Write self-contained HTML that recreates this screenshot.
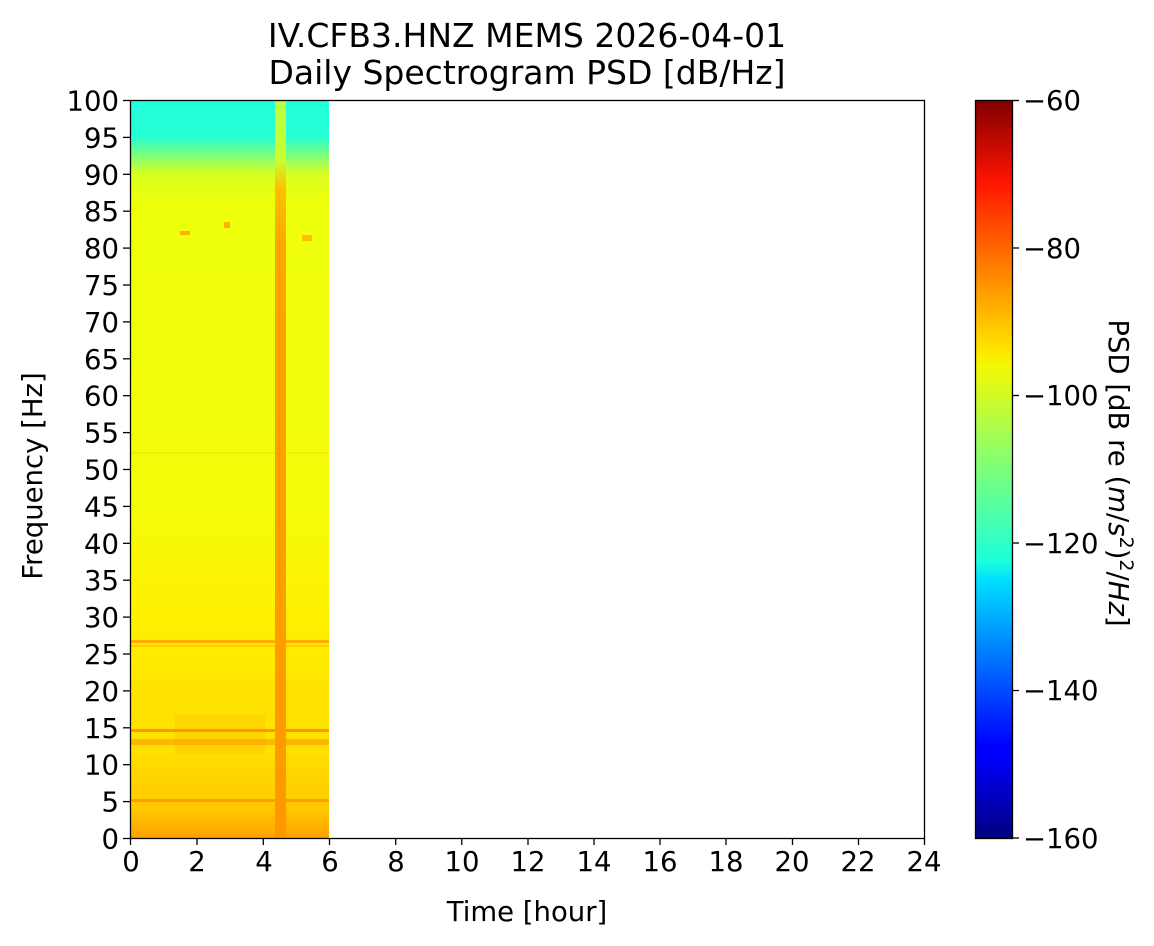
<!DOCTYPE html>
<html><head><meta charset="utf-8"><style>
html,body{margin:0;padding:0;background:#fff}
svg{display:block}
text{font-family:"DejaVu Sans","Liberation Sans",sans-serif;fill:#000}
</style></head><body>
<svg width="1154" height="946" viewBox="0 0 1154 946" xmlns="http://www.w3.org/2000/svg">
<defs>
<linearGradient id="bg" x1="0" y1="100" x2="0" y2="838" gradientUnits="userSpaceOnUse">
<stop offset="0" stop-color="#22ffdc"/>
<stop offset="0.05" stop-color="#26ffd4"/>
<stop offset="0.075" stop-color="#7dff7a"/>
<stop offset="0.1" stop-color="#d8ff20"/>
<stop offset="0.14" stop-color="#eeff0c"/>
<stop offset="0.55" stop-color="#f4fc08"/>
<stop offset="0.7" stop-color="#fff000"/>
<stop offset="0.88" stop-color="#ffe000"/>
<stop offset="0.96" stop-color="#ffc800"/>
<stop offset="1" stop-color="#ffa000"/>
</linearGradient>
<linearGradient id="st" x1="0" y1="100" x2="0" y2="838" gradientUnits="userSpaceOnUse">
<stop offset="0" stop-color="#b8ff40"/>
<stop offset="0.08" stop-color="#c8ff30"/>
<stop offset="0.12" stop-color="#ffc000"/>
<stop offset="0.2" stop-color="#ffa400"/>
<stop offset="1" stop-color="#ff9800"/>
</linearGradient>
<linearGradient id="jet" x1="0" y1="838" x2="0" y2="100" gradientUnits="userSpaceOnUse">
<stop offset="0" stop-color="#00007f"/>
<stop offset="0.11" stop-color="#0000ff"/>
<stop offset="0.125" stop-color="#0000ff"/>
<stop offset="0.35" stop-color="#00e0ff"/>
<stop offset="0.375" stop-color="#1cffdb"/>
<stop offset="0.5" stop-color="#7dff7a"/>
<stop offset="0.64" stop-color="#f4f802"/>
<stop offset="0.66" stop-color="#ffe600"/>
<stop offset="0.89" stop-color="#ff1300"/>
<stop offset="1" stop-color="#7f0000"/>
</linearGradient>
</defs>
<rect x="131" y="100" width="198" height="738" fill="url(#bg)"/>
<g opacity="0.5">
<rect x="131" y="680" width="198" height="40" fill="#ffe000"/>
<rect x="175" y="715" width="90" height="40" fill="#ffb000" opacity="0.5"/>
</g>
<rect x="131" y="640" width="198" height="3" fill="#ff9a00" opacity="0.8"/>
<rect x="131" y="645" width="198" height="2" fill="#ffb000" opacity="0.6"/>
<rect x="131" y="729" width="198" height="3" fill="#ff8a00" opacity="0.85"/>
<rect x="131" y="739" width="198" height="6" fill="#ff9a00" opacity="0.6"/>
<rect x="131" y="799" width="198" height="3" fill="#ff9000" opacity="0.8"/>
<rect x="131" y="452" width="198" height="2" fill="#ffd000" opacity="0.4"/>
<rect x="180" y="231" width="10" height="4" fill="#ffb000"/>
<rect x="224" y="222" width="6" height="6" fill="#ffb000"/>
<rect x="302" y="235" width="10" height="6" fill="#ffc000"/>
<rect x="275" y="100" width="11" height="738" fill="url(#st)"/>
<rect x="130.5" y="100.5" width="794" height="738" fill="none" stroke="#000" stroke-width="1.3"/>
<g stroke="#000" stroke-width="1.3">
<line x1="130.5" y1="838" x2="130.5" y2="845"/><line x1="197" y1="838" x2="197" y2="845"/>
<line x1="263.3" y1="838" x2="263.3" y2="845"/><line x1="329.5" y1="838" x2="329.5" y2="845"/>
<line x1="395.7" y1="838" x2="395.7" y2="845"/><line x1="461.8" y1="838" x2="461.8" y2="845"/>
<line x1="528" y1="838" x2="528" y2="845"/><line x1="594" y1="838" x2="594" y2="845"/>
<line x1="660" y1="838" x2="660" y2="845"/><line x1="726" y1="838" x2="726" y2="845"/>
<line x1="792.5" y1="838" x2="792.5" y2="845"/><line x1="858.5" y1="838" x2="858.5" y2="845"/>
<line x1="924.5" y1="838" x2="924.5" y2="845"/>
</g>
<g font-size="27.5" text-anchor="middle">
<text x="131" y="871">0</text><text x="197" y="871">2</text><text x="264" y="871">4</text>
<text x="330" y="871">6</text><text x="396" y="871">8</text><text x="462" y="871">10</text>
<text x="528" y="871">12</text><text x="594" y="871">14</text><text x="660" y="871">16</text>
<text x="726" y="871">18</text><text x="792" y="871">20</text><text x="858" y="871">22</text>
<text x="924" y="871">24</text>
</g>
<g stroke="#000" stroke-width="1.3">
<line x1="123" y1="100.5" x2="130" y2="100.5"/><line x1="123" y1="137.4" x2="130" y2="137.4"/>
<line x1="123" y1="174.3" x2="130" y2="174.3"/><line x1="123" y1="211.2" x2="130" y2="211.2"/>
<line x1="123" y1="248.1" x2="130" y2="248.1"/><line x1="123" y1="285" x2="130" y2="285"/>
<line x1="123" y1="321.9" x2="130" y2="321.9"/><line x1="123" y1="358.8" x2="130" y2="358.8"/>
<line x1="123" y1="395.7" x2="130" y2="395.7"/><line x1="123" y1="432.6" x2="130" y2="432.6"/>
<line x1="123" y1="469.5" x2="130" y2="469.5"/><line x1="123" y1="506.4" x2="130" y2="506.4"/>
<line x1="123" y1="543.3" x2="130" y2="543.3"/><line x1="123" y1="580.2" x2="130" y2="580.2"/>
<line x1="123" y1="617.1" x2="130" y2="617.1"/><line x1="123" y1="654" x2="130" y2="654"/>
<line x1="123" y1="690.9" x2="130" y2="690.9"/><line x1="123" y1="727.8" x2="130" y2="727.8"/>
<line x1="123" y1="764.7" x2="130" y2="764.7"/><line x1="123" y1="801.6" x2="130" y2="801.6"/>
<line x1="123" y1="838.5" x2="130" y2="838.5"/>
</g>
<g font-size="27.5" text-anchor="end">
<text x="119" y="110.5">100</text><text x="119" y="147.4">95</text><text x="119" y="184.3">90</text>
<text x="119" y="221.2">85</text><text x="119" y="258.1">80</text><text x="119" y="295">75</text>
<text x="119" y="331.9">70</text><text x="119" y="368.8">65</text><text x="119" y="405.7">60</text>
<text x="119" y="442.6">55</text><text x="119" y="479.5">50</text><text x="119" y="516.4">45</text>
<text x="119" y="553.3">40</text><text x="119" y="590.2">35</text><text x="119" y="627.1">30</text>
<text x="119" y="664">25</text><text x="119" y="700.9">20</text><text x="119" y="737.8">15</text>
<text x="119" y="774.7">10</text><text x="119" y="811.6">5</text><text x="119" y="848.5">0</text>
</g>
<text x="527" y="921" font-size="27.5" text-anchor="middle">Time [hour]</text>
<text transform="translate(42,476) rotate(-90)" font-size="27.5" text-anchor="middle">Frequency [Hz]</text>
<text x="527" y="47" font-size="33" text-anchor="middle">IV.CFB3.HNZ MEMS 2026-04-01</text>
<text x="527" y="84" font-size="33" text-anchor="middle">Daily Spectrogram PSD [dB/Hz]</text>
<rect x="975" y="100" width="37" height="738" fill="url(#jet)"/>
<rect x="975.5" y="100.5" width="37" height="738" fill="none" stroke="#000" stroke-width="1.3"/>
<g stroke="#000" stroke-width="1.3">
<line x1="1012" y1="100.5" x2="1019" y2="100.5"/><line x1="1012" y1="248" x2="1019" y2="248"/>
<line x1="1012" y1="395.5" x2="1019" y2="395.5"/><line x1="1012" y1="543" x2="1019" y2="543"/>
<line x1="1012" y1="690.5" x2="1019" y2="690.5"/><line x1="1012" y1="838" x2="1019" y2="838"/>
</g>
<g font-size="27.5">
<text x="1023" y="110">−60</text><text x="1023" y="258">−80</text><text x="1023" y="405">−100</text>
<text x="1023" y="553">−120</text><text x="1023" y="700">−140</text><text x="1023" y="848">−160</text>
</g>
<text transform="translate(1109,473) rotate(90)" font-size="27.5" text-anchor="middle">PSD [dB re (<tspan font-style="italic">m</tspan>/<tspan font-style="italic">s</tspan><tspan font-size="19" dy="-11">2</tspan><tspan dy="11">)</tspan><tspan font-size="19" dy="-11">2</tspan><tspan dy="11">/</tspan><tspan font-style="italic">Hz</tspan>]</text>
</svg>
</body></html>
